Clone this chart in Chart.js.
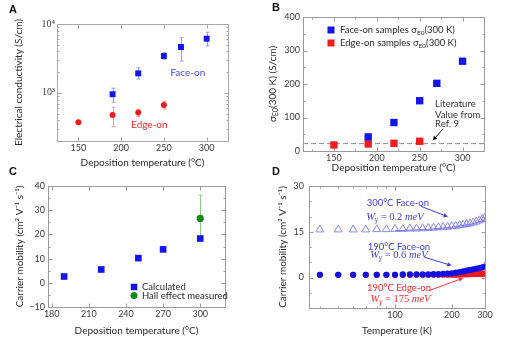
<!DOCTYPE html>
<html>
<head>
<meta charset="utf-8">
<script src="https://cdn.jsdelivr.net/npm/chart.js@4/dist/chart.umd.min.js"></script>
<style>
  html, body { margin: 0; padding: 0; background: #fff; }
  #wrap { position: relative; width: 509px; height: 343px; overflow: hidden; }
  #wrap canvas { position: absolute; left: 0; top: 0; }
  .tag { position: absolute; font: bold 11px "Liberation Sans", Arial, sans-serif; color: #111; }
</style>
</head>
<body>
<div id="wrap">
  <canvas id="cA" width="509" height="343"></canvas>
  <canvas id="cB" width="509" height="343"></canvas>
  <canvas id="cC" width="509" height="343"></canvas>
  <canvas id="cD" width="509" height="343"></canvas>
  <div class="tag" style="left:9px;top:3px">A</div>
  <div class="tag" style="left:272px;top:1px">B</div>
  <div class="tag" style="left:9px;top:165px">C</div>
  <div class="tag" style="left:272px;top:165px">D</div>
</div>
<script>
// ---------- Panel A: electrical conductivity (S/cm) vs deposition temperature ----------
const depTempFaceA = [190, 220, 250, 270, 300];
const condFaceA    = [955, 1920, 3430, 4630, 6120];
const condFaceLoA  = [730, 1590, 3080, 2900, 4800];
const condFaceHiA  = [1170, 2320, 3830, 6320, 7590];
const depTempEdgeA = [150, 190, 220, 250];
const condEdgeA    = [374, 478, 517, 667];
const condEdgeLoA  = [353, 324, 452, 584];
const condEdgeHiA  = [395, 618, 578, 756];
const ticksXA = [150, 200, 250, 300];
const ticksYA = [1000, 10000];
const tickLabelsYA = ['10\u00B3', '10\u2074'];
const minorYA = [200, 300, 400, 500, 600, 700, 800, 900, 2000, 3000, 4000, 5000, 6000, 7000, 8000, 9000];

// ---------- Panel B: sigma_E0(300 K) vs deposition temperature ----------
const depTempFaceB = [190, 220, 250, 270, 300];
const sigmaFaceB   = [42, 85, 150, 202, 268];
const depTempEdgeB = [150, 190, 220, 250];
const sigmaEdgeB   = [18, 21, 23, 29];
const literatureSigma = 22;
const ticksXB = [150, 200, 250, 300];
const ticksYB = [0, 100, 200, 300, 400];

// ---------- Panel C: carrier mobility vs deposition temperature ----------
const depTempC      = [190, 220, 250, 270, 300];
const mobilityCalcC = [2.6, 5.5, 10.2, 13.8, 18.3];
const depTempHallC  = [300];
const mobilityHallC = [26.6];
const mobilityHallLoC = [18.5];
const mobilityHallHiC = [36.2];
const ticksXC = [180, 210, 240, 270, 300];
const ticksYC = [-10, 0, 10, 20, 30, 40];
const tickLabelsYC = ['\u221210', '0', '10', '20', '30', '40'];

// ---------- Panel D: carrier mobility vs measurement temperature ----------
const measTempD = [40, 50, 60, 70, 80, 90, 100, 110, 120, 130, 140, 150, 160, 170, 180, 190,
                   200, 210, 220, 230, 240, 250, 260, 270, 280, 290, 300];
const mobFace300D = [15.7, 15.7, 15.7, 15.7, 15.8, 15.8, 15.9, 15.9, 16.0, 16.0, 16.1, 16.2, 16.3, 16.4,
                     16.5, 16.6, 16.8, 16.9, 17.1, 17.3, 17.5, 17.7, 18.0, 18.3, 18.7, 19.1, 19.6];
const mobFace190D = [0.9, 0.9, 0.9, 0.9, 0.9, 0.9, 0.9, 1.0, 1.0, 1.0, 1.0, 1.0, 1.1, 1.1,
                     1.2, 1.3, 1.4, 1.6, 1.8, 2.0, 2.3, 2.5, 2.7, 2.9, 3.1, 3.3, 3.6];
const measTempEdgeD = [40, 50, 60, 70, 80, 90, 100, 110, 120, 130, 140, 150, 160, 170, 180, 190,
                       200, 205, 210, 215, 220, 225, 230, 235, 240, 245, 250, 255, 260, 265, 270,
                       275, 280, 285, 290, 295, 300];
const mobEdge190D = [0.9, 0.9, 0.9, 0.9, 0.9, 0.9, 0.9, 0.9, 0.9, 0.9, 0.9, 0.9, 0.9, 0.9, 0.9, 0.9,
                     0.9, 0.9, 0.95, 1.0, 1.0, 1.05, 1.05, 1.1, 1.1, 1.1, 1.15, 1.15, 1.15, 1.2, 1.2,
                     1.2, 1.2, 1.25, 1.25, 1.25, 1.25];
const fitTempD = [100, 150, 200, 250, 300];
const fitFace300D = [15.3, 15.8, 16.5, 17.4, 18.9];
const ticksXD = [100, 200, 300];
const ticksYD = [0, 15, 30];
const minorXD = [40, 50, 60, 70, 80, 90];

// ---------- shared styling ----------
const SANS = 'Lato, "Open Sans", "Liberation Sans", sans-serif';
const SERIF = '"Liberation Serif", "DejaVu Serif", serif';
const BLUE = '#1414ee', RED = '#ee1c1c', GREEN = '#168a16';
const TITLE_SIZE = 10;
const TITLE_LH = TITLE_SIZE * 1.2;
const TICK_SIZE = 9;
const PAGE_W = 509, PAGE_H = 343;

const fs = (size, style = '', fam = SANS) => `${style} ${size}px ${fam}`.trim();
const zip = (xs, ys) => xs.map((x, i) => ({ x, y: ys[i] }));
const fixedTicks = list => scale => { scale.ticks = list.map(v => ({ value: v })); };

function drawRich(ctx, parts, x, y, align, color) {
  let w = 0;
  parts.forEach(p => { ctx.font = p.f; w += ctx.measureText(p.t).width; });
  let cx = align === 'left' ? x : x - w / 2;
  ctx.fillStyle = color;
  ctx.textBaseline = 'middle';
  ctx.textAlign = 'left';
  parts.forEach(p => {
    ctx.font = p.f;
    ctx.fillText(p.t, cx, y + (p.dy || 0));
    cx += ctx.measureText(p.t).width;
  });
}

function drawArrow(ctx, x1, y1, x2, y2, color) {
  const ang = Math.atan2(y2 - y1, x2 - x1), h = 5;
  ctx.save();
  ctx.strokeStyle = color; ctx.fillStyle = color; ctx.lineWidth = 1;
  ctx.beginPath(); ctx.moveTo(x1, y1); ctx.lineTo(x2 - Math.cos(ang) * h * 0.8, y2 - Math.sin(ang) * h * 0.8); ctx.stroke();
  ctx.beginPath();
  ctx.moveTo(x2, y2);
  ctx.lineTo(x2 - h * Math.cos(ang - 0.45), y2 - h * Math.sin(ang - 0.45));
  ctx.lineTo(x2 - h * Math.cos(ang + 0.45), y2 - h * Math.sin(ang + 0.45));
  ctx.closePath(); ctx.fill();
  ctx.restore();
}

// box around the plot area with inward tick marks on all four sides
const framePlugin = {
  id: 'frame',
  beforeDatasetsDraw(chart, args, o) {
    const { ctx, chartArea: a, scales: { x, y } } = chart;
    ctx.save();
    ctx.strokeStyle = o.color || '#9a9a9a';
    ctx.lineWidth = 1;
    const L = Math.round(a.left) + 0.5, T = Math.round(a.top) + 0.5;
    const R = Math.round(a.right) + 0.5, B = Math.round(a.bottom) + 0.5;
    ctx.strokeRect(L, T, R - L, B - T);
    ctx.beginPath();
    const tx = (v, len) => {
      const p = Math.round(x.getPixelForValue(v)) + 0.5;
      ctx.moveTo(p, B); ctx.lineTo(p, B - len); ctx.moveTo(p, T); ctx.lineTo(p, T + len);
    };
    const ty = (v, len) => {
      const p = Math.round(y.getPixelForValue(v)) + 0.5;
      ctx.moveTo(L, p); ctx.lineTo(L + len, p); ctx.moveTo(R, p); ctx.lineTo(R - len, p);
    };
    x.ticks.forEach(t => tx(t.value, 4));
    y.ticks.forEach(t => ty(t.value, 4));
    (o.xMinor || []).forEach(v => tx(v, 2));
    (o.yMinor || []).forEach(v => ty(v, 2));
    ctx.stroke();
    ctx.restore();
  }
};

// vertical error bars from errLo / errHi arrays on a dataset
const errorBarPlugin = {
  id: 'errorBars',
  beforeDatasetsDraw(chart) {
    const { ctx, scales: { x, y } } = chart;
    chart.data.datasets.forEach(ds => {
      if (!ds.errLo) return;
      ctx.save();
      ctx.strokeStyle = ds.errColor; ctx.lineWidth = 1;
      ctx.beginPath();
      ds.data.forEach((p, j) => {
        const px = Math.round(x.getPixelForValue(p.x)) + 0.5;
        const y1 = y.getPixelForValue(ds.errLo[j]), y2 = y.getPixelForValue(ds.errHi[j]);
        ctx.moveTo(px, y1); ctx.lineTo(px, y2);
        ctx.moveTo(px - 2, y1); ctx.lineTo(px + 2, y1);
        ctx.moveTo(px - 2, y2); ctx.lineTo(px + 2, y2);
      });
      ctx.stroke();
      ctx.restore();
    });
  }
};

// text labels and arrows anchored in data coordinates, legends and rotated titles
const notesPlugin = {
  id: 'notes',
  afterDatasetsDraw(chart, args, o) {
    const { ctx, chartArea: a, scales: { x, y } } = chart;
    ctx.save();
    (o.arrows || []).forEach(r => drawArrow(ctx,
      x.getPixelForValue(r.x1), y.getPixelForValue(r.y1),
      x.getPixelForValue(r.x2), y.getPixelForValue(r.y2), r.color));
    (o.items || []).forEach(n => drawRich(ctx, n.parts,
      x.getPixelForValue(n.x), y.getPixelForValue(n.y), n.align || 'center', n.color));
    (o.keys || []).forEach(k => {
      const mx = a.left + k.dx, my = (k.fromBottom ? a.bottom - k.dy : a.top + k.dy);
      ctx.fillStyle = k.color;
      if (k.shape === 'circle') { ctx.beginPath(); ctx.arc(mx, my, k.size / 2, 0, Math.PI * 2); ctx.fill(); }
      else ctx.fillRect(mx - k.size / 2, my - k.size / 2, k.size, k.size);
      drawRich(ctx, k.parts, mx + k.gap, my, 'left', '#2a2a2a');
    });
    if (o.yTitle) {
      ctx.translate(a.left - o.yTitle.dx, (a.top + a.bottom) / 2);
      ctx.rotate(-Math.PI / 2);
      drawRich(ctx, o.yTitle.parts, 0, 0, 'center', '#2a2a2a');
    }
    ctx.restore();
  }
};

function xAxis({ type = 'linear', min, max, ticks, labels, xH, dy, title, pad = 2 }) {
  return {
    type, position: 'bottom', min, max,
    afterBuildTicks: fixedTicks(ticks),
    afterFit: s => { s.height = xH; },
    grid: { display: false, drawTicks: false },
    border: { display: false },
    ticks: {
      autoSkip: false, maxRotation: 0, minRotation: 0, padding: pad, color: '#3a3a3a',
      font: { family: SANS, size: TICK_SIZE },
      callback: (v, i) => labels ? labels[i] : String(ticks[i])
    },
    title: {
      display: !!title, text: title, color: '#2a2a2a',
      font: { family: SANS, size: TITLE_SIZE, lineHeight: 1.2 },
      padding: { top: 0, bottom: xH - TITLE_LH / 2 - dy }
    }
  };
}

function yAxis({ type = 'linear', min, max, ticks, labels, yW, dx, title, pad = 3, family = SANS, size = TICK_SIZE }) {
  return {
    type, position: 'left', min, max,
    afterBuildTicks: fixedTicks(ticks),
    afterFit: s => { s.width = yW; },
    grid: { display: false, drawTicks: false },
    border: { display: false },
    ticks: {
      autoSkip: false, padding: pad, color: '#3a3a3a',
      font: { family, size },
      callback: (v, i) => labels ? labels[i] : String(ticks[i])
    },
    title: {
      display: !!title, text: title, color: '#2a2a2a',
      font: { family: SANS, size: TITLE_SIZE, lineHeight: 1.2 },
      padding: { top: yW - TITLE_LH / 2 - dx, bottom: 0 }
    }
  };
}

function areaPadding(area, yW, xH) {
  return { left: area.l - yW, top: area.t, right: PAGE_W - area.r, bottom: PAGE_H - area.b - xH };
}

function makeChart(id, area, yW, xH, datasets, scales, pluginOpts) {
  return new Chart(document.getElementById(id), {
    type: 'scatter',
    data: { datasets },
    options: {
      responsive: false, animation: false, devicePixelRatio: 1,
      layout: { padding: areaPadding(area, yW, xH) },
      scales,
      plugins: Object.assign({ legend: { display: false }, tooltip: { enabled: false } }, pluginOpts)
    },
    plugins: [framePlugin, errorBarPlugin, notesPlugin]
  });
}

const sub = (t, size = 7) => ({ t, f: fs(size), dy: 3 });
const txt = (t, size = 10) => ({ t, f: fs(size) });
const mathW = (value) => [
  { t: 'W', f: fs(10.5, 'italic', SERIF) },
  { t: '\u03B3', f: fs(7.5, 'italic', SERIF), dy: 3 },
  { t: ' = ' + value + ' ', f: fs(10.5, '', SERIF) },
  { t: 'meV', f: fs(10.5, 'italic', SERIF) }
];

// ---------- A ----------
makeChart('cA', { l: 57, t: 24, r: 228, b: 141 }, 48, 30, [
  { data: zip(depTempFaceA, condFaceA), errLo: condFaceLoA, errHi: condFaceHiA, errColor: '#9a9af2',
    pointStyle: 'rect', pointRadius: 4.2, backgroundColor: BLUE, borderWidth: 0 },
  { data: zip(depTempEdgeA, condEdgeA), errLo: condEdgeLoA, errHi: condEdgeHiA, errColor: '#f29a9a',
    pointStyle: 'circle', pointRadius: 3, backgroundColor: RED, borderWidth: 0 }
], {
  x: xAxis({ min: 125, max: 325, ticks: ticksXA, xH: 30, dy: 22, title: 'Deposition temperature (\u00B0C)' }),
  y: yAxis({ type: 'logarithmic', min: 200, max: 10000, ticks: ticksYA, labels: tickLabelsYA, yW: 48, dx: 38,
             pad: 2, family: SERIF, size: 10, title: 'Electrical conductivity (S/cm)' })
}, {
  frame: { yMinor: minorYA, color: '#a8a8a8' },
  notes: {
    items: [
      { x: 278, y: 1960, parts: [txt('Face-on', 10)], color: '#4646e2' },
      { x: 233, y: 342, parts: [txt('Edge-on', 10)], color: '#ee2a2a' }
    ]
  }
});

// ---------- B ----------
const xMinB = 114, xMaxB = 325;
makeChart('cB', { l: 303, t: 17, r: 484, b: 151 }, 45, 24, [
  { data: zip(depTempFaceB, sigmaFaceB), pointStyle: 'rect', pointRadius: 5.2, backgroundColor: BLUE, borderWidth: 0 },
  { data: zip(depTempEdgeB, sigmaEdgeB), pointStyle: 'rect', pointRadius: 5.2, backgroundColor: RED, borderWidth: 0 },
  { data: [{ x: xMinB, y: literatureSigma }, { x: xMaxB, y: literatureSigma }], showLine: true, pointRadius: 0,
    borderColor: '#8a8a8a', borderWidth: 1, borderDash: [5, 3] }
], {
  x: xAxis({ min: xMinB, max: xMaxB, ticks: ticksXB, xH: 24, dy: 17, title: 'Deposition temperature (\u00B0C)' }),
  y: yAxis({ min: 0, max: 400, ticks: ticksYB, yW: 45, dx: 30 })
}, {
  frame: { xMinor: [125, 175, 225, 275], yMinor: [50, 150, 250, 350] },
  notes: {
    arrows: [{ x1: 277, y1: 65, x2: 265, y2: 31, color: '#111' }],
    items: [
      { x: 268, y: 139, parts: [txt('Literature', 9.5)], color: '#333', align: 'left' },
      { x: 268, y: 107, parts: [txt('Value from', 9.5)], color: '#333', align: 'left' },
      { x: 268, y: 80, parts: [txt('Ref. 9', 9.5)], color: '#333', align: 'left' }
    ],
    keys: [
      { dx: 28, dy: 13, size: 7, color: BLUE, gap: 9, parts: [txt('Face-on samples \u03C3', 9.5), sub('E0', 6.5), txt('(300 K)', 9.5)] },
      { dx: 28, dy: 26, size: 7, color: RED, gap: 9, parts: [txt('Edge-on samples \u03C3', 9.5), sub('E0', 6.5), txt('(300 K)', 9.5)] }
    ],
    yTitle: { dx: 30, parts: [txt('\u03C3', TITLE_SIZE), sub('E0', 7), txt('(300 K) (S/cm)', TITLE_SIZE)] }
  }
});

// ---------- C ----------
makeChart('cC', { l: 48, t: 186, r: 225, b: 307 }, 45, 32, [
  { data: zip(depTempHallC, mobilityHallC), errLo: mobilityHallLoC, errHi: mobilityHallHiC, errColor: '#8cc88c',
    pointStyle: 'circle', pointRadius: 3.6, backgroundColor: GREEN, borderWidth: 0 },
  { data: zip(depTempC, mobilityCalcC), pointStyle: 'rect', pointRadius: 4.7, backgroundColor: BLUE, borderWidth: 0 }
], {
  x: xAxis({ min: 177, max: 320, ticks: ticksXC, xH: 32, dy: 24, title: 'Deposition temperature (\u00B0C)' }),
  y: yAxis({ min: -10, max: 40, ticks: ticksYC, labels: tickLabelsYC, yW: 45, dx: 28,
             title: 'Carrier mobility (cm\u00B2 V\u207B\u00B9 s\u207B\u00B9)' })
}, {
  frame: { yMinor: [-5, 5, 15, 25, 35] },
  notes: {
    keys: [
      { dx: 86, dy: 20, fromBottom: true, shape: 'rect', size: 6.5, color: BLUE, gap: 8, parts: [txt('Calculated', 9.5)] },
      { dx: 86, dy: 11.5, fromBottom: true, shape: 'circle', size: 7, color: GREEN, gap: 8, parts: [txt('Hall effect measured', 9.5)] }
    ]
  }
});

// ---------- D ----------
makeChart('cD', { l: 309, t: 186, r: 485, b: 308 }, 45, 32, [
  { data: zip(fitTempD, fitFace300D), showLine: true, pointRadius: 0, borderColor: '#7a7adf', borderWidth: 1 },
  { data: zip(measTempD, mobFace300D), pointStyle: 'triangle', pointRadius: 4.6,
    borderColor: '#8a8ae8', backgroundColor: 'rgba(0,0,0,0)', borderWidth: 1 },
  { data: zip(measTempD, mobFace190D), pointStyle: 'circle', pointRadius: 3.1, backgroundColor: '#1010e6', borderWidth: 0 },
  { data: zip(measTempEdgeD, mobEdge190D), pointStyle: 'circle', pointRadius: 3.1, backgroundColor: '#f41a1a', borderWidth: 0 }
], {
  x: xAxis({ type: 'logarithmic', min: 35, max: 300, ticks: ticksXD, xH: 32, dy: 23, title: 'Temperature (K)' }),
  y: yAxis({ min: -10, max: 30, ticks: ticksYD, yW: 45, dx: 26, pad: 5,
             title: 'Carrier mobility (cm\u00B2 V\u207B\u00B9 s\u207B\u00B9)' })
}, {
  frame: { xMinor: minorXD, yMinor: [-5, 5, 10, 20, 25] },
  notes: {
    arrows: [
      { x1: 138, y1: 23.3, x2: 191, y2: 19.9, color: '#3c3cd8' },
      { x1: 144, y1: 6.6, x2: 200, y2: 3.9, color: '#3c3cd8' },
      { x1: 150, y1: -4.4, x2: 230, y2: -0.2, color: '#f03a3a' }
    ],
    items: [
      { x: 103.5, y: 24.6, parts: [txt('300\u00B0C Face-on', 9.5)], color: '#3c3cd8' },
      { x: 100, y: 19.9, parts: mathW('0.2'), color: '#3c3cd8' },
      { x: 105, y: 10.1, parts: [txt('190\u00B0C Face-on', 9.5)], color: '#3c3cd8' },
      { x: 105, y: 7.3, parts: mathW('0.6'), color: '#3c3cd8' },
      { x: 105, y: -3.3, parts: [txt('190\u00B0C Edge-on', 9.5)], color: '#f02a2a' },
      { x: 107, y: -7.0, parts: mathW('175'), color: '#f02a2a' }
    ]
  }
});
</script>
</body>
</html>
